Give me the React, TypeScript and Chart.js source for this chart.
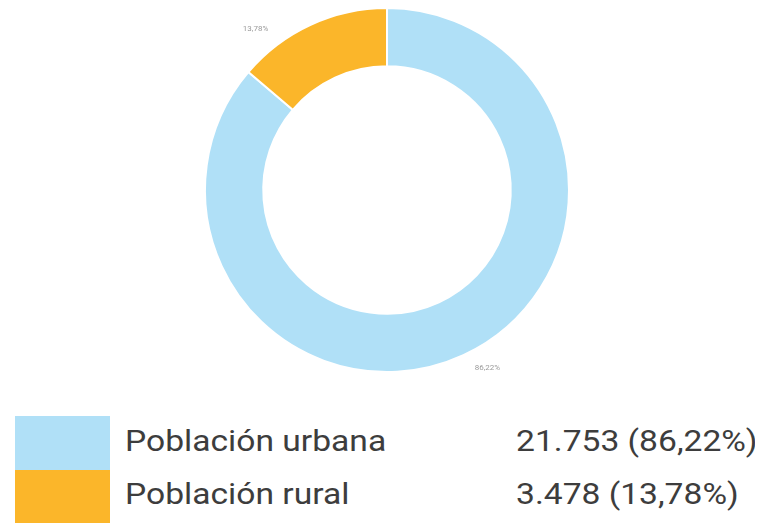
import React, { useEffect, useRef } from "react";
import { Chart, registerables } from "chart.js";

Chart.register(...registerables);

const categories = ["Población urbana", "Población rural"];
const values = [21753, 3478];
const percentLabels = ["86,22%", "13,78%"];
const valueLabels = ["21.753 (86,22%)", "3.478 (13,78%)"];
const colors = ["#b0e0f7", "#fbb62a"];

const outsideLabels = {
  id: "outsideLabels",
  afterDatasetsDraw(chart: any, _args: any, opts: any) {
    const ctx = chart.ctx;
    const meta = chart.getDatasetMeta(0);
    ctx.save();
    ctx.font = "8px Roboto";
    ctx.fillStyle = "#9a9a9a";
    ctx.textAlign = "center";
    ctx.textBaseline = "middle";
    meta.data.forEach((arc: any, i: number) => {
      const p = arc.getProps(["x", "y", "startAngle", "endAngle", "outerRadius"], true);
      const f = opts.fractions[i];
      const a = p.startAngle + (p.endAngle - p.startAngle) * f;
      const r = p.outerRadius + opts.offsets[i];
      ctx.fillText(percentLabels[i], p.x + Math.cos(a) * r, p.y + Math.sin(a) * r);
    });
    ctx.restore();
  },
};

export default function App() {
  const ref = useRef<HTMLCanvasElement>(null);
  useEffect(() => {
    const chart = new Chart(ref.current!, {
      type: "doughnut",
      data: {
        labels: categories,
        datasets: [
          {
            data: values,
            backgroundColor: colors,
            borderColor: "#ffffff",
            borderWidth: 2,
            hoverOffset: 0,
          },
        ],
      },
      options: {
        responsive: false,
        animation: false,
        cutout: "68%",
        layout: { padding: { top: 7, bottom: 7, left: 11, right: 0 } },
        plugins: {
          legend: { display: false },
          tooltip: { enabled: false },
          outsideLabels: { fractions: [0.485, 0.21], offsets: [22, 26] },
        } as any,
      },
      plugins: [outsideLabels],
    });
    return () => chart.destroy();
  }, []);

  const textStyle: React.CSSProperties = {
    position: "absolute",
    fontFamily: "Roboto, sans-serif",
    fontSize: 30,
    lineHeight: "30px",
    color: "#3d3d3d",
    whiteSpace: "nowrap",
    transform: "scaleX(1.12)",
    transformOrigin: "left center",
  };

  return (
    <div style={{ position: "relative", width: 763, height: 523, margin: "-8px 0 0 -8px", background: "#fff" }}>
      <canvas ref={ref} width={763} height={380} style={{ position: "absolute", left: 0, top: 0 }} />
      {categories.map((c, i) => (
        <React.Fragment key={c}>
          <div
            style={{
              position: "absolute",
              left: 15,
              top: 416 + i * 54,
              width: 95,
              height: i === 0 ? 54 : 53,
              background: colors[i],
            }}
          />
          <div style={{ ...textStyle, left: 125, top: 426 + i * 53 }}>{c}</div>
          <div style={{ ...textStyle, left: 516, top: 426 + i * 53 }}>{valueLabels[i]}</div>
        </React.Fragment>
      ))}
    </div>
  );
}
